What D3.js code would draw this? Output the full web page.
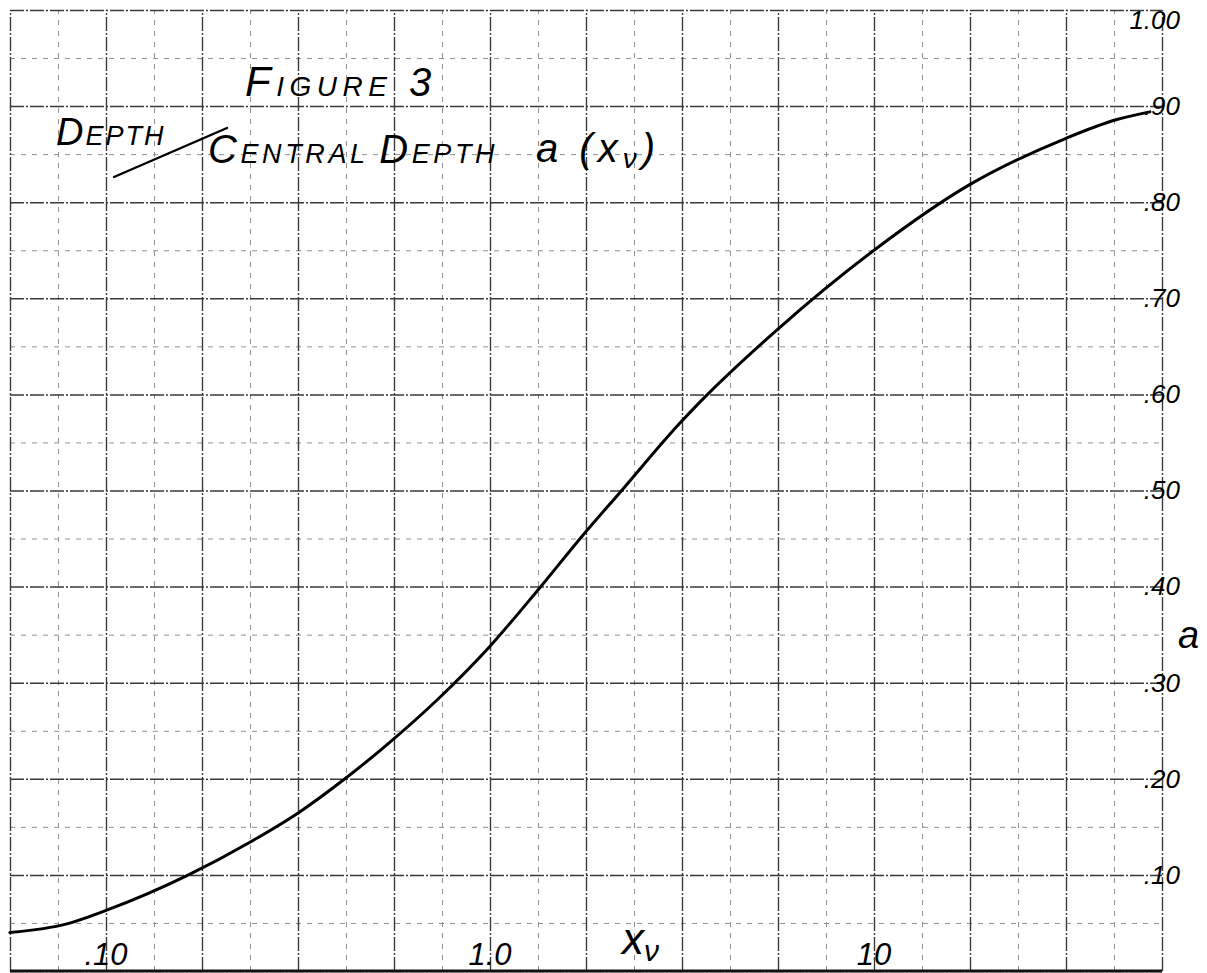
<!DOCTYPE html>
<html><head><meta charset="utf-8">
<script src="https://cdn.jsdelivr.net/npm/d3@7"></script>
<style>html,body{margin:0;padding:0;background:#fff;} svg{display:block;}</style>
</head><body>
<svg id="chart" width="1207" height="973"></svg>
<script>
// ---- data ----
const xValues = [0.0562, 0.0791, 0.10, 0.164, 0.237, 0.318, 0.419, 0.530, 0.728, 1.0, 1.33, 1.75, 2.18, 3.12, 3.52, 5.62, 10.0, 17.7, 31.4, 42.9, 52.3];
const aValues = [0.040, 0.049, 0.063, 0.100, 0.134, 0.165, 0.200, 0.233, 0.282, 0.338, 0.396, 0.454, 0.498, 0.570, 0.592, 0.668, 0.750, 0.818, 0.866, 0.886, 0.894];
const xTickValues = [0.1, 1, 10];
const xTickLabels = [".10", "1.0", "10"];
const yTickValues = [1.0, 0.9, 0.8, 0.7, 0.6, 0.5, 0.4, 0.3, 0.2, 0.1];
const yTickLabels = ["1.00", ".90", ".80", ".70", ".60", ".50", ".40", ".30", ".20", ".10"];

(function () {
const svg = d3.select("#chart");
const font = "'Liberation Sans', 'DejaVu Sans', sans-serif";

const x = d3.scaleLog().domain([Math.pow(10, -1.25), Math.pow(10, 1.75)]).range([10, 1162]);
const y = d3.scaleLinear().domain([0, 1]).range([971, 10]);

// graph-paper grid (quarter-decade majors, eighth-decade minors)
const xMajor = d3.range(0, 13).map(i => Math.pow(10, -1.25 + i * 0.25));
const xMinor = d3.range(0, 12).map(i => Math.pow(10, -1.125 + i * 0.25));
const yMajor = d3.range(0, 11).map(i => i / 10);
const yMinor = d3.range(0, 10).map(i => i / 10 + 0.05);

const gTop = y(1), gBottom = y(0), gLeft = x.range()[0], gRight = x.range()[1];

function grid(axisGen, transform, cls) {
  const g = svg.append("g").attr("class", cls).attr("transform", transform).call(axisGen);
  g.select(".domain").remove();
  g.selectAll("text").remove();
  return g;
}
// minor dashed
grid(d3.axisBottom(x).tickValues(xMinor).tickSize(-(gBottom - gTop)).tickFormat(""), `translate(0,${gBottom})`, "xminor")
  .selectAll("line").attr("stroke", "#909090").attr("stroke-width", 1).attr("stroke-dasharray", "5,6");
grid(d3.axisLeft(y).tickValues(yMinor).tickSize(-(gRight - gLeft)).tickFormat(""), `translate(${gLeft},0)`, "yminor")
  .selectAll("line").attr("stroke", "#909090").attr("stroke-width", 1).attr("stroke-dasharray", "5,6");
// major
grid(d3.axisBottom(x).tickValues(xMajor).tickSize(-(gBottom - gTop)).tickFormat(""), `translate(0,${gBottom})`, "xmajor")
  .selectAll("line").attr("stroke", "#3a3a3a").attr("stroke-width", 1.4).attr("stroke-dasharray", "14,2,2,2");
grid(d3.axisLeft(y).tickValues(yMajor).tickSize(-(gRight - gLeft)).tickFormat(""), `translate(${gLeft},0)`, "ymajor")
  .selectAll("line").attr("stroke", "#3a3a3a").attr("stroke-width", 1.5).attr("stroke-dasharray", "14,2,2,2");

// bottom edge heavier
svg.append("line").attr("x1", gLeft).attr("x2", gRight).attr("y1", gBottom).attr("y2", gBottom)
  .attr("stroke", "#111").attr("stroke-width", 3);

// curve
const pts = xValues.map((v, i) => ({ v, a: aValues[i] }));
const line = d3.line().x(d => x(d.v)).y(d => y(d.a)).curve(d3.curveMonotoneX);
svg.append("path").datum(pts).attr("d", line).attr("fill", "none")
  .attr("stroke", "#000").attr("stroke-width", 3).attr("stroke-linecap", "round");

// y tick labels (right side)
svg.append("g").selectAll("text").data(yTickValues).join("text")
  .attr("x", 1180).attr("y", d => Math.max(y(d) + 2, 22))
  .attr("text-anchor", "end").attr("dominant-baseline", "middle")
  .attr("font-family", font).attr("font-style", "italic").attr("font-size", 26)
  .attr("fill", "#000")
  .text((d, i) => yTickLabels[i]);

// x tick labels (bottom)
svg.append("g").selectAll("text").data(xTickValues).join("text")
  .attr("x", d => x(d)).attr("y", 965)
  .attr("text-anchor", "middle")
  .attr("font-family", font).attr("font-style", "italic").attr("font-size", 31)
  .attr("fill", "#000")
  .text((d, i) => xTickLabels[i]);

// axis titles
const xt = svg.append("text").attr("x", 622).attr("y", 954)
  .attr("font-family", font).attr("font-style", "italic").attr("font-size", 44).attr("fill", "#000");
xt.append("tspan").text("x");
xt.append("tspan").attr("font-size", 30).attr("dy", 7).text("ν");

svg.append("text").attr("x", 1178).attr("y", 648)
  .attr("font-family", font).attr("font-style", "italic").attr("font-size", 38).attr("fill", "#000").text("a");

// title block
function caps(xp, yp, parts, spacing) {
  const t = svg.append("text").attr("x", xp).attr("y", yp)
    .attr("font-family", font).attr("font-style", "italic").attr("fill", "#000")
    .attr("letter-spacing", spacing);
  parts.forEach(p => t.append("tspan").attr("font-size", p[1]).text(p[0]));
  return t;
}
caps(245, 96, [["F", 42], ["IGURE", 28], [" 3", 40]], 5.5);
caps(56, 145, [["D", 38], ["EPTH", 27]], 2);
svg.append("line").attr("x1", 114).attr("y1", 177).attr("x2", 227).attr("y2", 128)
  .attr("stroke", "#000").attr("stroke-width", 2.4).attr("stroke-linecap", "round");
caps(208, 163, [["C", 40], ["ENTRAL ", 27], ["D", 40], ["EPTH", 27]], 3.6);
const ft = svg.append("text").attr("x", 536).attr("y", 162)
  .attr("font-family", font).attr("font-style", "italic").attr("font-size", 40).attr("fill", "#000")
  .attr("letter-spacing", 5);
ft.append("tspan").text("a (x");
ft.append("tspan").attr("font-size", 28).attr("dy", 6).text("ν");
ft.append("tspan").attr("dy", -6).text(")");
})();
</script>
</body></html>
